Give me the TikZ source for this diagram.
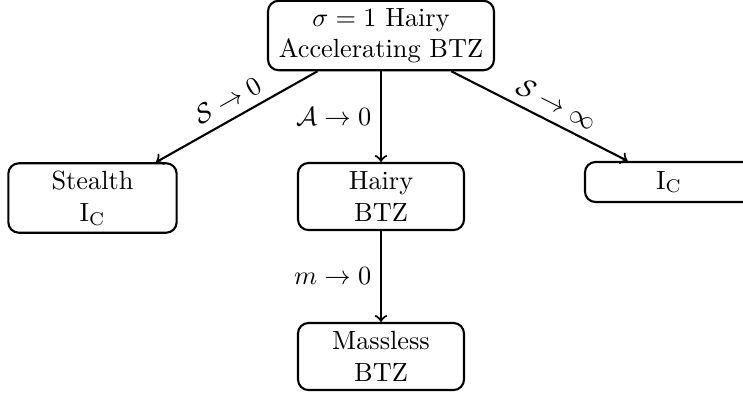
\documentclass[tikz,border=0pt]{standalone}
\usepackage{amsmath}
\begin{document}
\begin{tikzpicture}[x=0.3802pt, y=-0.3802pt,
  box/.style={draw, thick, rounded corners=4pt, align=center, inner sep=1pt},
  conn/.style={->, thick},
  lbl/.style={font=\normalsize}]
\useasboundingbox (0,0) rectangle (743,398);
\node[box, minimum width=85.9pt, minimum height=26.4pt] (top) at (381,35.5) {$\sigma=1$ Hairy\\Accelerating BTZ};
\node[box, minimum width=63.1pt, minimum height=25.5pt] (hairy) at (381,196.5) {Hairy\\BTZ};
\node[box, minimum width=63.1pt, minimum height=25.5pt] (massless) at (381,356.5) {Massless\\BTZ};
\node[box, minimum width=64pt, minimum height=26.4pt] (stealth) at (92.5,198) {Stealth\\$\mathrm{I}_{\mathrm{C}}$};
\node[box, minimum width=63.9pt, minimum height=15.2pt] (ic) at (669,182) {$\mathrm{I}_{\mathrm{C}}$};
\draw[conn] (top) -- node[sloped, above] {$\mathcal{S}\to 0$} (stealth);
\draw[conn] (top) -- node[left] {$\mathcal{A}\to 0$} (hairy);
\draw[conn] (top) -- node[sloped, above, pos=0.55] {$\mathcal{S}\to \infty$} (ic);
\draw[conn] (hairy) -- node[left] {$m\to 0$} (massless);
\end{tikzpicture}
\end{document}
